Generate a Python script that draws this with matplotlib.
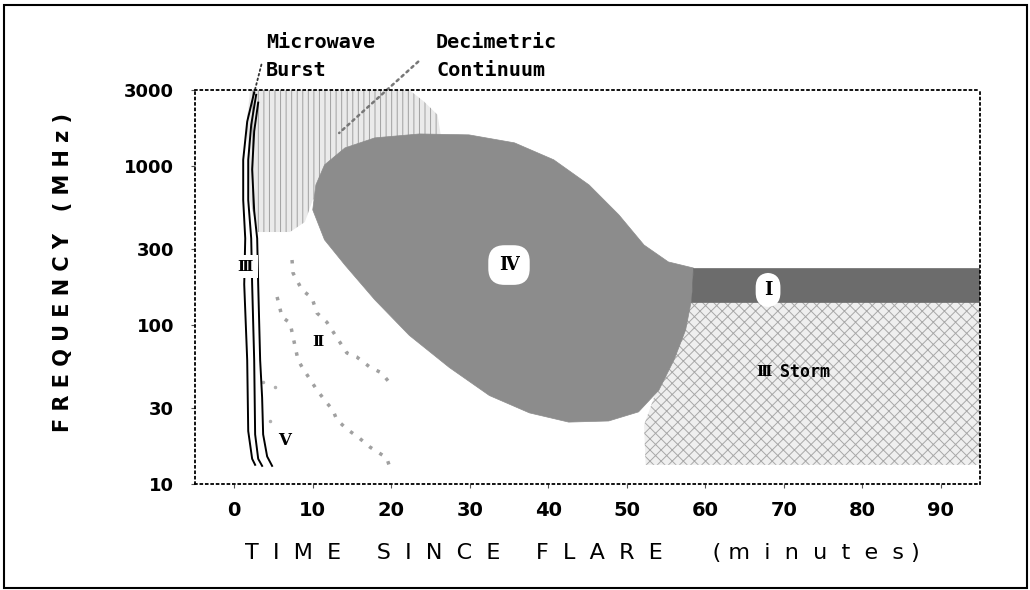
import matplotlib
matplotlib.use("Agg")
import matplotlib.pyplot as plt
from matplotlib.patches import Polygon, Rectangle

# axis ticks
xticks = [0, 10, 20, 30, 40, 50, 60, 70, 80, 90]
yticks = [10, 30, 100, 300, 1000, 3000]

# type IV continuum outline (minutes, MHz)
iv_t = [10.0, 10.4, 11.5, 14.1, 17.9, 23.6, 29.9, 35.7, 40.7, 45.2, 49.0, 52.2, 55.3, 58.5,
        58.2, 57.5, 56.0, 54.1, 51.5, 47.7, 42.6, 37.6, 32.5, 27.4, 22.3, 17.9, 14.1, 11.5]
iv_f = [529, 759, 1014, 1297, 1500, 1588, 1567, 1396, 1092, 759, 492, 318, 249, 228,
        140, 93, 60, 39, 28.4, 24.9, 24.5, 28, 36, 54, 86, 144, 238, 343]

# type I noise band
band_t = [58.5, 95, 95, 58.2]
band_f = [228, 228, 140, 140]

# type III storm
storm_t = [52.4, 52.2, 57.9, 95, 95]
storm_f = [13.2, 23.5, 140, 140, 13.2]

# decimetric continuum
dcm_t = [2.0, 22.3, 24.2, 25.9, 26.3, 21.0, 10.0, 9.0, 7.1, 3.0, 2.0, 1.65]
dcm_f = [3000, 3000, 2530, 2094, 1567, 1262, 611, 444, 384, 384, 611, 1945]

# type III bursts (three tracks)
iii1_t = [2.54, 1.65, 1.14, 1.14, 1.40, 1.27, 1.65, 1.78, 2.28, 2.66]
iii1_f = [2900, 1900, 1092, 611, 350, 180, 60, 21.5, 14.4, 13.2]
iii2_t = [2.79, 2.16, 1.78, 1.78, 2.16, 2.28, 2.54, 2.66, 3.05, 3.55]
iii2_f = [2800, 1811, 1092, 611, 350, 180, 60, 20.5, 14.4, 13.0]
iii3_t = [3.05, 2.54, 2.28, 2.54, 2.92, 3.05, 3.30, 3.55, 3.68, 4.19, 4.82]
iii3_f = [2500, 1650, 950, 520, 350, 180, 60, 35, 20.5, 14.9, 13.0]

# type II lanes
ii_a_t = [7.36, 7.49, 8.63, 9.90, 10.53, 11.8, 14.34, 15.6, 17.26, 18.78, 19.8]
ii_a_f = [256, 212, 166, 148, 119, 104, 66.7, 62.9, 54.4, 49.9, 43.2]
ii_b_t = [5.46, 6.09, 7.11, 8.12, 8.63, 10.53, 11.8, 12.56, 13.07, 14.47, 15.74, 17.26, 19.42, 19.8]
ii_b_f = [150, 112, 103, 60.3, 54.4, 39, 32.3, 29.2, 25.3, 21.9, 19.8, 17.1, 14.6, 12.8]

# type V speckles
v_t = [3.6, 5.2, 4.6]
v_f = [44, 41, 25]

fig = plt.figure(figsize=(10.3, 5.9), dpi=100)
ax = fig.add_axes((195 / 1030, 1 - 484 / 590, 785 / 1030, 394 / 590))
ax.set_yscale("log")
ax.set_xlim(-5, 95)
ax.set_ylim(10, 3000)

plt.rcParams["hatch.linewidth"] = 0.7

# regions, back to front
ax.add_patch(Polygon(list(zip(storm_t, storm_f)), closed=True, facecolor="#efefef",
                     edgecolor="#a8a8a8", hatch="xxx", lw=0, zorder=1))
ax.add_patch(Polygon(list(zip(dcm_t, dcm_f)), closed=True, facecolor="#eaeaea",
                     edgecolor="#a0a0a0", hatch="|||", lw=0, zorder=1))
ax.add_patch(Polygon(list(zip(iv_t, iv_f)), closed=True, facecolor="#8c8c8c",
                     edgecolor="#8c8c8c", lw=0.5, zorder=2))
ax.add_patch(Polygon(list(zip(band_t, band_f)), closed=True, facecolor="#6c6c6c",
                     edgecolor="#6c6c6c", lw=0.5, zorder=2))

# type II and V
for tt, ff in [(ii_a_t, ii_a_f), (ii_b_t, ii_b_f)]:
    ax.plot(tt, ff, ls=(0, (1, 2.5)), color="#a0a0a0", lw=2.5, zorder=3)
ax.plot(v_t, v_f, ls="none", marker=".", ms=3, color="#b0b0b0", zorder=3)

# type III tracks
for tt, ff in [(iii1_t, iii1_f), (iii2_t, iii2_f), (iii3_t, iii3_f)]:
    ax.plot(tt, ff, color="black", lw=1.4, zorder=4)

# leaders
ax.annotate("", xy=(2.41, 2716), xytext=(3.55, 4508), annotation_clip=False,
            arrowprops=dict(arrowstyle="-", ls=":", lw=1.3, color="#333333"))
ax.annotate("", xy=(13.1, 1567), xytext=(23.7, 4645), annotation_clip=False,
            arrowprops=dict(arrowstyle="-", ls=":", lw=1.8, color="#777777"))

roman = dict(family=["DejaVu Serif", "DejaVu Sans"], fontweight="bold", ha="center", va="center", zorder=6)
ax.text(35.0, 238, "Ⅳ", fontsize=13, bbox=dict(boxstyle="round,pad=0.6,rounding_size=0.9",
                                               fc="white", ec="none"), **roman)
ax.text(68.0, 166, "Ⅰ", fontsize=13, bbox=dict(boxstyle="round,pad=0.45,rounding_size=0.8",
                                              fc="white", ec="none"), **roman)
ax.text(1.4, 232, "Ⅲ", fontsize=11, bbox=dict(boxstyle="square,pad=0.3", fc="white", ec="none"), **roman)
ax.text(10.66, 78, "Ⅱ", fontsize=11, **roman)
ax.text(6.47, 18.9, "Ⅴ", fontsize=12, **roman)
ax.text(67.5, 50.6, "Ⅲ", fontsize=11, **roman)
ax.text(69.5, 50.6, "Storm", fontsize=12, family="DejaVu Sans Mono", fontweight="bold",
        ha="left", va="center", zorder=6)

mono = dict(family="DejaVu Sans Mono", fontweight="bold", fontsize=14.5, ha="left", va="center")
fig.text(266 / 1030, 1 - 43 / 590, "Microwave", **mono)
fig.text(266 / 1030, 1 - 70 / 590, "Burst", **mono)
fig.text(436 / 1030, 1 - 43 / 590, "Decimetric", **mono)
fig.text(436 / 1030, 1 - 70 / 590, "Continuum", **mono)

# axes styling
for s in ax.spines.values():
    s.set_linestyle((0, (1, 2)))
    s.set_linewidth(1.3)
    s.set_zorder(5)
ax.set_xticks(xticks)
ax.set_xticklabels([str(v) for v in xticks], fontsize=14, fontweight="bold")
ax.set_yticks(yticks)
ax.set_yticklabels([str(v) for v in yticks], fontsize=13, fontweight="bold")
ax.minorticks_off()
ax.tick_params(axis="both", direction="out", length=3, width=0.8, color="#555555")
ax.tick_params(axis="x", pad=9)
ax.tick_params(axis="y", pad=12)

ax.set_ylabel("F R E Q U E N C Y   ( M H z )", fontsize=15, fontweight="bold")
ax.yaxis.set_label_coords(-0.155, 0.538)
ax.set_xlabel("T  I  M  E     S  I  N  C  E     F  L  A  R  E       ( m  i  n  u  t  e  s )",
              fontsize=16)
ax.xaxis.set_label_coords(0.493, -0.15)

fig.add_artist(Rectangle((4 / 1030, 2 / 590), 1023 / 1030, 583 / 590, transform=fig.transFigure,
                         fill=False, lw=1.5, color="black"))

fig.savefig("out.png", dpi=100)
